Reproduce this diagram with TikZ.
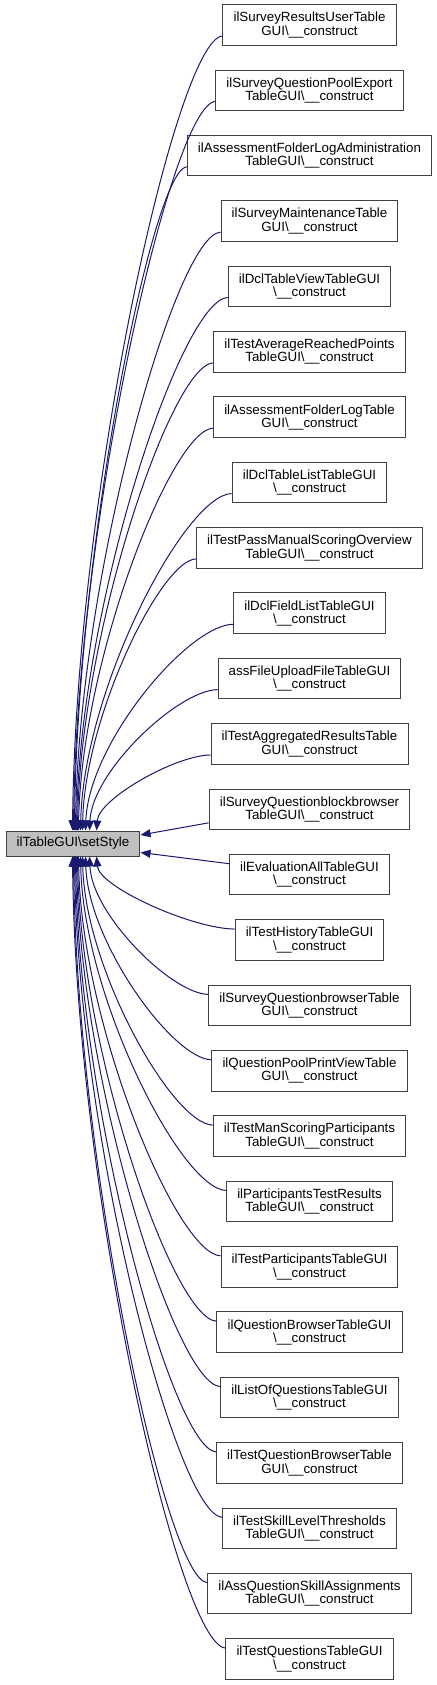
\documentclass[tikz,border=0pt]{standalone}
\usepackage{fontspec}
\setmainfont{Liberation Sans}
\usetikzlibrary{arrows.meta,calc}
\definecolor{edgecol}{HTML}{191970}
\definecolor{boxborder}{HTML}{404040}
\definecolor{mainfill}{HTML}{BFBFBF}
\newcommand{\cons}{\textbackslash\_\_construct}
\begin{document}
\begin{tikzpicture}[x=0.75pt,y=-0.75pt,
  fnbox/.style={draw=boxborder,line width=0.75pt,fill=white,align=center,
    font=\fontsize{10}{10}\selectfont,inner xsep=8pt,inner ysep=2pt,minimum height=30.4pt},
  mainbox/.style={fnbox,fill=mainfill,minimum height=18.75pt},
  edge/.style={draw=edgecol,line width=0.75pt,-{Triangle[length=7.5pt,width=6pt]}}]
\useasboundingbox (0,0) rectangle (436,1685);
\node[mainbox] (main) at (73,843.5) {ilTableGUI\textbackslash setStyle};
\node[fnbox] (c0) at (309.5,{25+65.36*0}) {ilSurveyResultsUserTable\\GUI\cons};
\node[fnbox] (c1) at (309.5,{25+65.36*1}) {ilSurveyQuestionPoolExport\\TableGUI\cons};
\node[fnbox] (c2) at (309.5,{25+65.36*2}) {ilAssessmentFolderLogAdministration\\TableGUI\cons};
\node[fnbox] (c3) at (309.5,{25+65.36*3}) {ilSurveyMaintenanceTable\\GUI\cons};
\node[fnbox] (c4) at (309.5,{25+65.36*4}) {ilDclTableViewTableGUI\\\cons};
\node[fnbox] (c5) at (309.5,{25+65.36*5}) {ilTestAverageReachedPoints\\TableGUI\cons};
\node[fnbox] (c6) at (309.5,{25+65.36*6}) {ilAssessmentFolderLogTable\\GUI\cons};
\node[fnbox] (c7) at (309.5,{25+65.36*7}) {ilDclTableListTableGUI\\\cons};
\node[fnbox] (c8) at (309.5,{25+65.36*8}) {ilTestPassManualScoringOverview\\TableGUI\cons};
\node[fnbox] (c9) at (309.5,{25+65.36*9}) {ilDclFieldListTableGUI\\\cons};
\node[fnbox] (c10) at (309.5,{25+65.36*10}) {assFileUploadFileTableGUI\\\cons};
\node[fnbox] (c11) at (309.5,{25+65.36*11}) {ilTestAggregatedResultsTable\\GUI\cons};
\node[fnbox] (c12) at (309.5,{25+65.36*12}) {ilSurveyQuestionblockbrowser\\TableGUI\cons};
\node[fnbox] (c13) at (309.5,{25+65.36*13}) {ilEvaluationAllTableGUI\\\cons};
\node[fnbox] (c14) at (309.5,{25+65.36*14}) {ilTestHistoryTableGUI\\\cons};
\node[fnbox] (c15) at (309.5,{25+65.36*15}) {ilSurveyQuestionbrowserTable\\GUI\cons};
\node[fnbox] (c16) at (309.5,{25+65.36*16}) {ilQuestionPoolPrintViewTable\\GUI\cons};
\node[fnbox] (c17) at (309.5,{25+65.36*17}) {ilTestManScoringParticipants\\TableGUI\cons};
\node[fnbox] (c18) at (309.5,{25+65.36*18}) {ilParticipantsTestResults\\TableGUI\cons};
\node[fnbox] (c19) at (309.5,{25+65.36*19}) {ilTestParticipantsTableGUI\\\cons};
\node[fnbox] (c20) at (309.5,{25+65.36*20}) {ilQuestionBrowserTableGUI\\\cons};
\node[fnbox] (c21) at (309.5,{25+65.36*21}) {ilListOfQuestionsTableGUI\\\cons};
\node[fnbox] (c22) at (309.5,{25+65.36*22}) {ilTestQuestionBrowserTable\\GUI\cons};
\node[fnbox] (c23) at (309.5,{25+65.36*23}) {ilTestSkillLevelThresholds\\TableGUI\cons};
\node[fnbox] (c24) at (309.5,{25+65.36*24}) {ilAssQuestionSkillAssignments\\TableGUI\cons};
\node[fnbox] (c25) at (309.5,{25+65.36*25}) {ilTestQuestionsTableGUI\\\cons};
% upper edges
\foreach \i/\dx in {0/67,1/68,2/69,3/70,4/71,5/72,6/73,7/75,8/77,9/80,10/84,11/91}{
  \draw[edge] let \p1=($(c\i.west)+(0,11)$), \p2=($(main.north west)+(\dx,0)$) in
    (\p1) .. controls ({\x1-0.31*(\x1-\x2)},{\y1+0.005*(\y2-\y1)})
    and ({\x2+0.02*(\x1-\x2)},{\y1+0.58*(\y2-\y1)}) .. (\p2);
}
% lower edges
\foreach \i/\dx in {14/91,15/84,16/80,17/77,18/75,19/73,20/72,21/71,22/70,23/69,24/68,25/67}{
  \draw[edge] let \p1=($(c\i.west)+(0,-11)$), \p2=($(main.south west)+(\dx,0)$) in
    (\p1) .. controls ({\x1-0.31*(\x1-\x2)},{\y1+0.005*(\y2-\y1)})
    and ({\x2+0.02*(\x1-\x2)},{\y1+0.58*(\y2-\y1)}) .. (\p2);
}
\draw[edge] ($(c12.west)+(0,13.5)$) -- ($(main.east)+(0,-8.5)$);
\draw[edge] ($(c13.west)+(0,-11)$) -- ($(main.east)+(0,9)$);
\end{tikzpicture}
\end{document}
